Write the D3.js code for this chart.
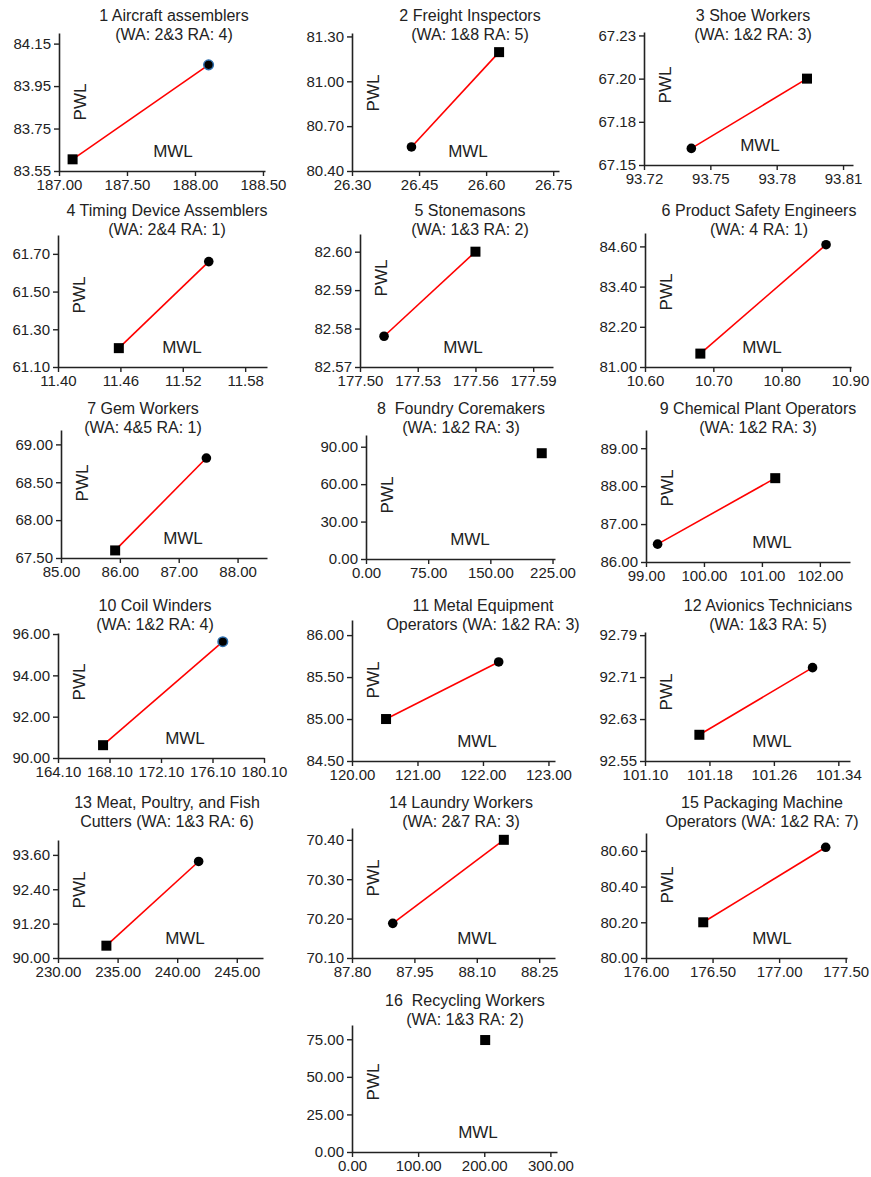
<!DOCTYPE html>
<html>
<head>
<meta charset="utf-8">
<script src="https://cdn.jsdelivr.net/npm/d3@7"></script>
<style>
  body { margin: 0; background: #fff; }
  svg text { font-family: "Liberation Sans", Arial, sans-serif; fill: #222; white-space: pre; }
</style>
</head>
<body>
<svg id="chart" width="871" height="1177"></svg>
<script>
// panel titles (two lines each)
const titles = [
  ["1 Aircraft assemblers", "(WA: 2&3 RA: 4)"],
  ["2 Freight Inspectors", "(WA: 1&8 RA: 5)"],
  ["3 Shoe Workers", "(WA: 1&2 RA: 3)"],
  ["4 Timing Device Assemblers", "(WA: 2&4 RA: 1)"],
  ["5 Stonemasons", "(WA: 1&3 RA: 2)"],
  ["6 Product Safety Engineers", "(WA: 4 RA: 1)"],
  ["7 Gem Workers", "(WA: 4&5 RA: 1)"],
  ["8  Foundry Coremakers", "(WA: 1&2 RA: 3)"],
  ["9 Chemical Plant Operators", "(WA: 1&2 RA: 3)"],
  ["10 Coil Winders", "(WA: 1&2 RA: 4)"],
  ["11 Metal Equipment", "Operators (WA: 1&2 RA: 3)"],
  ["12 Avionics Technicians", "(WA: 1&3 RA: 5)"],
  ["13 Meat, Poultry, and Fish", "Cutters (WA: 1&3 RA: 6)"],
  ["14 Laundry Workers", "(WA: 2&7 RA: 3)"],
  ["15 Packaging Machine", "Operators (WA: 1&2 RA: 7)"],
  ["16  Recycling Workers", "(WA: 1&3 RA: 2)"]
];

// MWL axis ticks and axis end
const xTicks = [
  [187.00, 187.50, 188.00, 188.50],
  [26.30, 26.45, 26.60, 26.75],
  [93.72, 93.75, 93.78, 93.81],
  [11.40, 11.46, 11.52, 11.58],
  [177.50, 177.53, 177.56, 177.59],
  [10.60, 10.70, 10.80, 10.90],
  [85.00, 86.00, 87.00, 88.00],
  [0, 75, 150, 225],
  [99.00, 100.00, 101.00, 102.00],
  [164.10, 168.10, 172.10, 176.10, 180.10],
  [120.00, 121.00, 122.00, 123.00],
  [101.10, 101.18, 101.26, 101.34],
  [230.00, 235.00, 240.00, 245.00],
  [87.80, 87.95, 88.10, 88.25],
  [176.00, 176.50, 177.00, 177.50],
  [0, 100, 200, 300]
];
const xMax = [188.515, 26.763, 93.8145, 11.601, 177.6003, 10.9015, 88.5, 228,
              102.52, 180.10, 123.1, 101.3545, 247.2, 88.288, 177.51, 310];

// PWL axis ticks and axis end
const yTicks = [
  [83.55, 83.75, 83.95, 84.15],
  [80.40, 80.70, 81.00, 81.30],
  [67.15, 67.175, 67.20, 67.225],
  [61.10, 61.30, 61.50, 61.70],
  [82.57, 82.58, 82.59, 82.60],
  [81.00, 82.20, 83.40, 84.60],
  [67.50, 68.00, 68.50, 69.00],
  [0, 30, 60, 90],
  [86.00, 87.00, 88.00, 89.00],
  [90.00, 92.00, 94.00, 96.00],
  [84.50, 85.00, 85.50, 86.00],
  [92.55, 92.63, 92.71, 92.79],
  [90.00, 91.20, 92.40, 93.60],
  [70.10, 70.20, 70.30, 70.40],
  [80.00, 80.20, 80.40, 80.60],
  [0, 25, 50, 75]
];
const yMax = [84.20, 81.323, 67.227, 61.80, 82.6046, 85.0, 69.19, 99.4,
              89.48, 96.05, 86.18, 92.796, 94.12, 70.43, 80.70, 84.5];

// [MWL, PWL] points: circle and square markers
const circles = [
  [188.10, 84.05], [26.433, 80.561], [93.7414, 67.1596], [11.545, 61.659],
  [177.5125, 82.578], [10.865, 84.65], [87.47, 68.82], null,
  [99.20, 86.47], [176.9, 95.63], [122.24, 85.68], [101.308, 92.728],
  [241.8, 93.37], [87.898, 70.188], [177.35, 80.62], null
];
const squares = [
  [187.10, 83.605], [26.629, 81.195], [93.7937, 67.20], [11.4585, 61.20],
  [177.56, 82.60], [10.681, 81.40], [85.92, 67.60], [212, 84.8],
  [101.23, 88.21], [167.6, 90.62], [120.52, 85.00], [101.1675, 92.60],
  [234.06, 90.43], [88.165, 70.40], [176.43, 80.20], [201.4, 74.5]
];
const ringed = [1, 10]; // circles drawn with a blue outline

// layout: left, right, bottom, top, title centre x, PWL lift, MWL x offset
const frames = [
  [59, 265, 171, 33, 174, 69, 114],
  [352, 559, 171, 33, 470, 78, 116],
  [644, 853, 165, 32, 753, 80, 116],
  [58, 267, 367, 235, 167, 72, 124],
  [360, 553, 367, 234, 470, 89, 103],
  [645, 851, 367, 233, 759, 75, 117],
  [61, 267, 558, 430, 143, 75, 122],
  [366, 555, 559, 435, 461, 64, 104],
  [646, 850, 562, 430, 758, 74, 126],
  [58, 264, 758, 633, 155, 76, 127],
  [352, 555, 761, 620, 483, 81, 125],
  [645, 850, 761, 632, 768, 69, 127],
  [58, 263, 958, 840, 167, 68, 127],
  [352, 555, 958, 828, 461, 80, 125],
  [646, 847, 958, 833, 762, 73, 126],
  [352, 557, 1152, 1025, 465, 70, 126]
];
const titleRowY = [15, 210, 408, 605, 802, 1000];

const fmt = v => (v + 1e-9).toFixed(2);
const svg = d3.select("#chart");

titles.forEach((t, i) => {
  const [left, right, bottom, top, tx, pwlUp, mwlDx] = frames[i];
  const g = svg.append("g").attr("class", "panel");

  const x = d3.scaleLinear().domain([xTicks[i][0], xMax[i]]).range([left, right]);
  const y = d3.scaleLinear().domain([yTicks[i][0], yMax[i]]).range([bottom, top]);

  // title
  const ty = titleRowY[Math.floor(i / 3)];
  g.append("text").attr("x", tx).attr("y", ty + 6)
    .attr("text-anchor", "middle").style("font-size", "16px").text(t[0]);
  g.append("text").attr("x", tx).attr("y", ty + 25)
    .attr("text-anchor", "middle").style("font-size", "16px").text(t[1]);

  // axes
  const xa = g.append("g").attr("transform", `translate(0,${bottom})`)
    .call(d3.axisBottom(x).tickValues(xTicks[i]).tickFormat(fmt)
      .tickSize(5).tickSizeOuter(0).tickPadding(3));
  const ya = g.append("g").attr("transform", `translate(${left},0)`)
    .call(d3.axisLeft(y).tickValues(yTicks[i]).tickFormat(fmt)
      .tickSize(5).tickSizeOuter(0).tickPadding(3));
  [xa, ya].forEach(a => {
    a.select(".domain").attr("stroke", "#222").attr("stroke-width", 1.6);
    a.selectAll(".tick line").attr("stroke", "#222").attr("stroke-width", 1.4);
    a.selectAll(".tick text").style("font-size", "15px").attr("fill", "#222");
  });

  // axis names
  g.append("text")
    .attr("transform", `translate(${left + 21},${bottom - pwlUp}) rotate(-90)`)
    .attr("text-anchor", "middle").attr("dominant-baseline", "central")
    .style("font-size", "17px").text("PWL");
  g.append("text").attr("x", left + mwlDx).attr("y", bottom - 20)
    .attr("text-anchor", "middle").attr("dominant-baseline", "central")
    .style("font-size", "17px").text("MWL");

  // connecting line
  const c = circles[i], s = squares[i];
  if (c) {
    g.append("line")
      .attr("x1", x(s[0])).attr("y1", y(s[1]))
      .attr("x2", x(c[0])).attr("y2", y(c[1]))
      .attr("stroke", "#ff0000").attr("stroke-width", 1.6);
  }

  // markers
  g.append("rect")
    .attr("x", x(s[0]) - 5).attr("y", y(s[1]) - 5)
    .attr("width", 10).attr("height", 10).attr("fill", "#000");
  if (c) {
    const ring = ringed.includes(i + 1);
    g.append("circle")
      .attr("cx", x(c[0])).attr("cy", y(c[1])).attr("r", 4.8)
      .attr("fill", "#000")
      .attr("stroke", ring ? "#2f6fae" : "none")
      .attr("stroke-width", ring ? 1.5 : 0);
  }
});
</script>
</body>
</html>
